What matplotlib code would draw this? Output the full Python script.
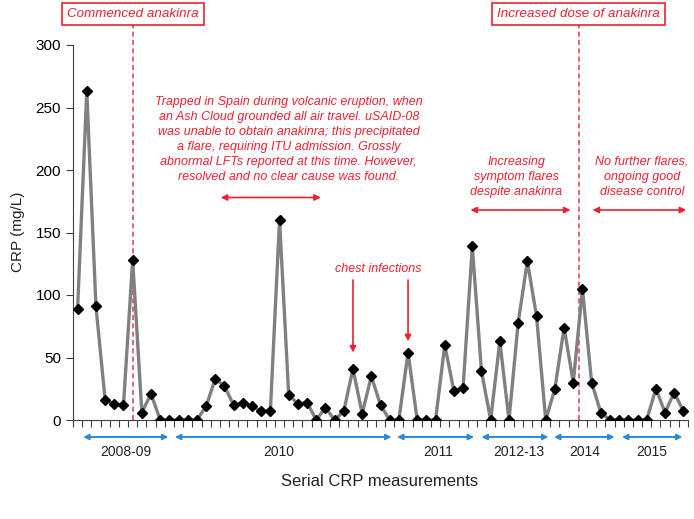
import matplotlib
matplotlib.use("Agg")
import matplotlib.pyplot as plt
from matplotlib.transforms import blended_transform_factory

plt.rcParams['font.family'] = ['Liberation Sans', 'DejaVu Sans']

# CRP series (mg/L), one value per serial measurement
crp = [89, 263, 91, 16, 13, 12, 128, 6, 21, 0,
       0, 0, 0, 0, 11, 33, 27, 12, 14, 11,
       7, 7, 160, 20, 13, 14, 0, 10, 0, 7,
       41, 5, 35, 12, 0, 0, 54, 0, 0, 0,
       60, 23, 26, 139, 39, 0, 63, 0, 78, 127,
       83, 0, 25, 74, 30, 105, 30, 6, 0, 0,
       0, 0, 0, 25, 6, 22, 7]
idx = list(range(1, len(crp) + 1))

# year periods along the x axis (start, end, label position, label)
year_start = [1.6, 11.6, 35.8, 45.0, 52.9, 60.3]
year_end = [10.9, 35.2, 44.2, 52.3, 59.5, 66.9]
year_mid = [6.2, 22.9, 40.3, 49.1, 56.3, 63.6]
year_labels = ["2008-09", "2010", "2011", "2012-13", "2014", "2015"]

red = "#F02030"
dash_red = "#E0485A"
blue = "#2B8AD4"

W, H = 694, 519
fig = plt.figure(figsize=(W / 100, H / 100), dpi=100)
ax = fig.add_axes([73 / W, (H - 420) / H, 615 / W, 375 / H])

ax.plot(idx, crp, color="#808080", lw=2.4, marker="D", markersize=5,
        markerfacecolor="black", markeredgecolor="black", zorder=3)

ax.set_xlim(0.5, len(crp) + 0.5)
ax.set_ylim(0, 300)
ax.set_yticks(range(0, 301, 50))
ax.set_xticks([i + 0.5 for i in range(0, len(crp) + 1)])
ax.set_xticklabels([])
ax.tick_params(axis="y", labelsize=11, length=5, direction="out", color="#404040")
ax.tick_params(axis="x", length=5, direction="out", color="#404040")
for s in ["top", "right"]:
    ax.spines[s].set_visible(False)
ax.spines["left"].set_color("#404040")
ax.spines["bottom"].set_color("#404040")

# treatment change markers
bt = blended_transform_factory(ax.transData, fig.transFigure)
for xv, txt in [(7, "Commenced anakinra"), (55.6, "Increased dose of anakinra")]:
    ax.axvline(xv, ymin=0, ymax=(420 - 25) / 375, color=dash_red, lw=1.2,
               ls=(0, (3, 2)), clip_on=False, zorder=2)
    ax.text(xv, 1 - 14 / H, txt, transform=bt, ha="center", va="center",
            fontsize=9.6, style="italic", color=red,
            bbox=dict(boxstyle="square,pad=0.38", fc="white", ec=red, lw=1.2))

# annotations
ax.text(24.0, 224.5, "Trapped in Spain during volcanic eruption, when\n"
        "an Ash Cloud grounded all air travel. uSAID-08\n"
        "was unable to obtain anakinra; this precipitated\n"
        "a flare, requiring ITU admission. Grossly\n"
        "abnormal LFTs reported at this time. However,\n"
        "resolved and no clear cause was found.",
        ha="center", va="center", fontsize=9, style="italic", color=red,
        linespacing=1.32)
ax.text(48.8, 194.5, "Increasing\nsymptom flares\ndespite anakinra",
        ha="center", va="center", fontsize=9, style="italic", color=red,
        linespacing=1.32)
ax.text(62.5, 194.5, "No further flares,\nongoing good\ndisease control",
        ha="center", va="center", fontsize=9, style="italic", color=red,
        linespacing=1.32)
ax.text(33.8, 121, "chest infections", ha="center", va="center",
        fontsize=9, style="italic", color=red)

for x0, x1, yv in [(16.6, 27.5, 178), (43.8, 54.7, 168), (57.1, 67.3, 168)]:
    ax.annotate("", xy=(x1, yv), xytext=(x0, yv),
                arrowprops=dict(arrowstyle="<|-|>", color=red, lw=1.2,
                                mutation_scale=9, shrinkA=0, shrinkB=0))
for xv, ytip in [(31, 54), (37, 63)]:
    ax.annotate("", xy=(xv, ytip), xytext=(xv, 112),
                arrowprops=dict(arrowstyle="-|>", color=red, lw=1.2,
                                mutation_scale=9, shrinkA=0, shrinkB=0))

# year ranges below the axis
bx = blended_transform_factory(ax.transData, ax.transAxes)
for x0, x1, xm, lab in zip(year_start, year_end, year_mid, year_labels):
    ax.annotate("", xy=(x1, -17 / 375), xytext=(x0, -17 / 375), xycoords=bx,
                textcoords=bx, annotation_clip=False,
                arrowprops=dict(arrowstyle="<|-|>", color=blue, lw=1.4,
                                mutation_scale=8, shrinkA=0, shrinkB=0))
    ax.text(xm, -32 / 375, lab, transform=bx, ha="center", va="center",
            fontsize=10, color="#222222")

fig.text(380 / W, 1 - 482 / H, "Serial CRP measurements", ha="center",
         va="center", fontsize=12, color="#222222")
fig.text(18 / W, 1 - 232 / H, "CRP (mg/L)", ha="center", va="center",
         rotation=90, fontsize=11, color="#222222")

fig.savefig("out.png", dpi=100)
